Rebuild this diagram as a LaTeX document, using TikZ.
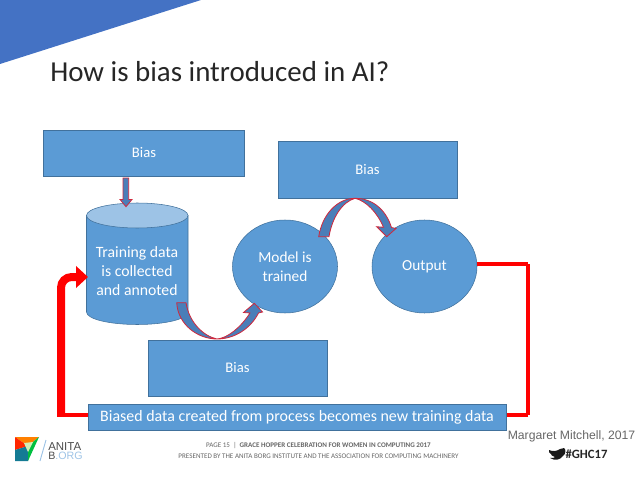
\documentclass[tikz,border=0pt]{standalone}
\usepackage{fontspec}
\setmainfont{Carlito}
\newfontfamily\arialfont{Liberation Sans}
\usetikzlibrary{shapes,arrows.meta}

\definecolor{boxblue}{HTML}{5B9BD5}
\definecolor{boxedge}{HTML}{41719C}
\definecolor{capblue}{HTML}{9DC3E6}
\definecolor{cornerblue}{HTML}{4472C4}
\definecolor{arcblue}{HTML}{4A7EB8}
\definecolor{arcedge}{HTML}{D0283C}

\newcommand{\unit}{.75pt}
\tikzset{
  biasbox/.style={rectangle,draw=boxedge,fill=boxblue,text=white,font=\fontsize{11}{13}\selectfont,inner sep=0pt},
  stepoval/.style={ellipse,draw=boxedge,fill=boxblue,text=white,align=center,font=\fontsize{11.5}{14.4}\selectfont,
    minimum width=105*\unit,minimum height=93*\unit,inner sep=0pt},
  blockarc/.style={draw=arcedge,fill=arcblue,line width=.6pt,line join=miter},
  feedback/.style={draw=red,line width=2.5pt},
}

\begin{document}
\begin{tikzpicture}[x=.75pt,y=-.75pt]
\useasboundingbox (0,0) rectangle (638,478);

% corner and title
\fill[cornerblue] (0,0) -- (201,0) -- (0,64) -- cycle;
\node[anchor=west,font=\fontsize{21.7}{24}\selectfont,text=black!85,inner sep=0pt] (title) at (50,72) {How is bias introduced in AI?};

% red loop
\coordinate (rightturn) at (528,264);
\coordinate (bottomturn) at (528,415);
\coordinate (leftturn) at (61,415);
\coordinate (leftend) at (57,415);
\coordinate (storein) at (88,277);

% boxes
\node[biasbox,minimum width=201*\unit,minimum height=46*\unit] (biasA) at (144,153) {Bias};
\node[biasbox,minimum width=179*\unit,minimum height=57*\unit] (biasB) at (367.5,169.5) {Bias};
\node[biasbox,minimum width=179*\unit,minimum height=56*\unit] (biasC) at (237.5,368) {Bias};
\draw[feedback] (leftend) -- (bottomturn);
\node[biasbox,minimum width=418*\unit,minimum height=26*\unit,font=\fontsize{11.95}{14}\selectfont] (banner) at (297,417) {Biased data created from process becomes new training data};

% data store
\draw[boxedge,fill=boxblue] (86.5,215.5) -- (86.5,312) .. controls (86.5,319) and (109,324.5) .. (137.25,324.5)
  .. controls (165.5,324.5) and (188,319) .. (188,312) -- (188,215.5) -- cycle;
\node[ellipse,draw=boxedge,fill=capblue,minimum width=101.5*\unit,minimum height=25*\unit,inner sep=0pt] (storetop) at (137.25,215.5) {};
\node[text=white,align=center,font=\fontsize{11.8}{14.4}\selectfont] (store) at (137,271) {Training data\\is collected\\and annoted};

\node[stepoval] (model) at (285,266.5) {Model is\\trained};
\node[stepoval] (output) at (424.5,266.5) {Output};

\draw[feedback] (output.east |- rightturn) -- (rightturn);
\draw[feedback,line width=3pt] (rightturn) -- (bottomturn);
\draw[feedback,line width=6pt,rounded corners=8pt,-{Triangle[length=9pt,width=16pt]}] (leftturn) |- (storein);

% block arrows
\fill[blockarc] (123,178) -- (128.7,178) -- (128.7,199.5) -- (132,199.5) -- (126,206.7) -- (120,199.5) -- (123,199.5) -- cycle;
\fill[blockarc] (176.7,302.7) .. controls (178,325) and (198,339) .. (217,339) .. controls (235,339) and (251,328) .. (258.5,313)
  -- (262.5,312) -- (254.3,303.3) -- (243.5,312.5) -- (250,313) .. controls (241,327) and (228,338) .. (217,339)
  .. controls (203,336) and (189,322) .. (186,302.7) -- cycle;
\fill[blockarc] (318.7,236.7) .. controls (322,215) and (337,198.3) .. (355,198.3) .. controls (373,198.3) and (386,210) .. (391.5,227.5)
  -- (396,228.5) -- (386.7,236.7) -- (376.7,226.7) -- (383.5,227.3) .. controls (377,212) and (366,201) .. (355,198.3)
  .. controls (342,202) and (332,218) .. (329,236.7) -- cycle;

% footer
\node[text=black!60,font=\arialfont\fontsize{9.15}{11}\selectfont] (credit) at (571.5,436) {Margaret Mitchell, 2017};
\node[font=\bfseries\fontsize{9.5}{11}\selectfont,text=black!85] (hashtag) at (586.5,454) {\#GHC17};
\fill[black!90,shift={(-2,0)}] (551,450) .. controls (555,452) and (559,451) .. (562,449) .. controls (564,448) and (565,449) .. (566,448)
  .. controls (568,449) and (568,454) .. (565,456) .. controls (562,460) and (557,461) .. (552,458) .. controls (555,458) and (556,458) .. (557,457)
  .. controls (554,456) and (553,455) .. (553,454) .. controls (551,453) and (551,452) .. (551,450) -- cycle;
\node[font=\fontsize{5.3}{6}\selectfont,text=black!60] (pageline) at (318.5,446) {PAGE 15 \ | \ \textbf{GRACE HOPPER CELEBRATION FOR WOMEN IN COMPUTING 2017}};
\node[font=\fontsize{5.3}{6}\selectfont,text=black!60] (presented) at (318.5,456) {PRESENTED BY THE ANITA BORG INSTITUTE AND THE ASSOCIATION FOR COMPUTING MACHINERY};

% logo
\fill[orange] (15,437) -- (39,437) -- (28,446) -- cycle;
\fill[red!70!orange] (15,437) -- (28,446) -- (15,450) -- cycle;
\fill[teal!70!cornerblue] (15,450) -- (28,446) -- (28,461) -- (15,461) -- cycle;
\fill[green!50!teal] (28,446) -- (39,437) -- (28,461) -- cycle;
\fill[yellow!40!green!30] (24,443) -- (33,442) -- (28,452) -- cycle;
\draw[capblue,line width=.7pt] (46,440) -- (40,461);
\node[font=\arialfont\fontsize{8.6}{10}\selectfont,text=black!70,anchor=west,inner sep=0pt] (anita) at (48,447) {ANITA};
\node[font=\arialfont\fontsize{8}{10}\selectfont,text=capblue,anchor=west,inner sep=0pt] (org) at (48,456) {\textcolor{black!70}{B}.ORG};
\end{tikzpicture}
\end{document}
